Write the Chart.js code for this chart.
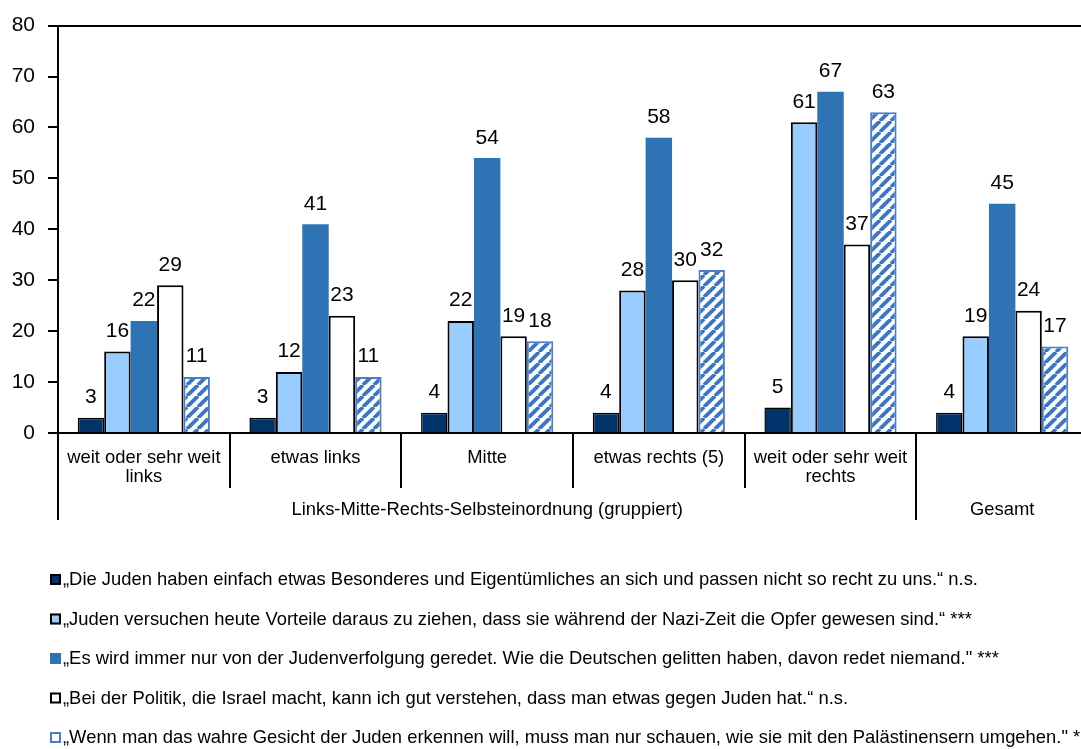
<!DOCTYPE html>
<html>
<head>
<meta charset="utf-8">
<script src="https://cdn.jsdelivr.net/npm/chart.js@4"></script>
<style>
  html, body { margin: 0; padding: 0; background: #fff; overflow: hidden; }
  #wrap { width: 1090px; height: 749px; }
</style>
</head>
<body>
<div id="wrap"><canvas id="chart"></canvas></div>
<script>
// Kategorien (erste Zeile der Achse) und Gruppen (zweite Zeile)
const categories = [
  ['weit oder sehr weit', 'links'],
  ['etwas links'],
  ['Mitte'],
  ['etwas rechts (5)'],
  ['weit oder sehr weit', 'rechts'],
  []
];
const groups = ['Links-Mitte-Rechts-Selbsteinordnung (gruppiert)', 'Gesamt'];
const groupSpans = [5, 1];

const yTicks = [0, 10, 20, 30, 40, 50, 60, 70, 80];

// Zustimmung in %
const besonderes = [3, 3, 4, 4, 5, 4];
const vorteile = [16, 12, 22, 28, 61, 19];
const judenverfolgung = [22, 41, 54, 58, 67, 45];
const israel = [29, 23, 19, 30, 37, 24];
const palaestinenser = [11, 11, 18, 32, 63, 17];

const seriesNames = [
  '„Die Juden haben einfach etwas Besonderes und Eigentümliches an sich und passen nicht so recht zu uns.“ n.s.',
  '„Juden versuchen heute Vorteile daraus zu ziehen, dass sie während der Nazi-Zeit die Opfer gewesen sind.“ ***',
  '„Es wird immer nur von der Judenverfolgung geredet. Wie die Deutschen gelitten haben, davon redet niemand." ***',
  '„Bei der Politik, die Israel macht, kann ich gut verstehen, dass man etwas gegen Juden hat.“ n.s.',
  '„Wenn man das wahre Gesicht der Juden erkennen will, muss man nur schauen, wie sie mit den Palästinensern umgehen." *'
];

const FONT = '"Liberation Sans", Arial, sans-serif';

// schraffierte Füllung
function makeHatch() {
  const n = 11;
  const c = document.createElement('canvas');
  c.width = n; c.height = n;
  const g = c.getContext('2d');
  g.fillStyle = '#fff';
  g.fillRect(0, 0, n, n);
  g.strokeStyle = '#3b76c2';
  g.lineWidth = 3.8;
  for (const o of [-n, 0, n]) {
    g.beginPath();
    g.moveTo(o, n);
    g.lineTo(o + n, 0);
    g.stroke();
  }
  return g.createPattern(c, 'repeat');
}
const hatch = makeHatch();

const extras = {
  id: 'extras',
  afterDraw(chart) {
    const { ctx, chartArea } = chart;
    const x = chart.scales.x;
    const w = (chartArea.right - chartArea.left) / categories.length;
    const bottom = chartArea.bottom;

    ctx.save();

    // Werte über den Balken
    ctx.font = '21px ' + FONT;
    ctx.fillStyle = '#000';
    ctx.textAlign = 'center';
    ctx.textBaseline = 'alphabetic';
    chart.data.datasets.forEach((ds, i) => {
      chart.getDatasetMeta(i).data.forEach((bar, j) => {
        ctx.fillText(String(ds.data[j]), bar.x, bar.y - 14.5);
      });
    });

    // x-Achse
    ctx.strokeStyle = '#000';
    ctx.lineWidth = 2;
    ctx.beginPath();
    ctx.moveTo(chartArea.left, bottom);
    ctx.lineTo(chartArea.right, bottom);
    ctx.stroke();

    // Trennlinien der Achsenbeschriftung
    const groupStarts = [0];
    groupSpans.forEach(s => groupStarts.push(groupStarts[groupStarts.length - 1] + s));
    for (let i = 0; i <= categories.length; i++) {
      const px = Math.round(x.getPixelForValue(0) - w / 2 + i * w);
      const deep = groupStarts.includes(i);
      ctx.beginPath();
      ctx.moveTo(px, bottom);
      ctx.lineTo(px, bottom + (deep ? 87 : 55));
      ctx.stroke();
    }

    // erste Zeile
    ctx.font = '18.4px ' + FONT;
    ctx.textBaseline = 'middle';
    categories.forEach((lines, i) => {
      const cx = x.getPixelForValue(i);
      lines.forEach((t, k) => ctx.fillText(t, cx, bottom + 25 + k * 18.5));
    });

    // zweite Zeile
    groups.forEach((g, i) => {
      const a = x.getPixelForValue(groupStarts[i]) - w / 2;
      const b = a + groupSpans[i] * w;
      ctx.fillText(g, (a + b) / 2, bottom + 77);
    });

    // Legende
    ctx.font = '18.4px ' + FONT;
    ctx.textAlign = 'left';
    chart.data.datasets.forEach((ds, i) => {
      const cy = 580 + i * 39.5;
      ctx.fillStyle = typeof ds.backgroundColor === 'string' ? ds.backgroundColor : '#fff';
      ctx.fillRect(50, cy - 6, 11, 11);
      if (ds.borderWidth) {
        ctx.strokeStyle = ds.borderColor;
        ctx.lineWidth = 2;
        ctx.strokeRect(51, cy - 5, 9, 9);
      }
      ctx.fillStyle = '#000';
      ctx.fillText(ds.label, 63, cy);
    });

    ctx.restore();
  }
};

const datasets = [
  { label: seriesNames[0], data: besonderes, backgroundColor: '#00336a', borderColor: '#000', borderWidth: 1.5 },
  { label: seriesNames[1], data: vorteile, backgroundColor: '#99ccff', borderColor: '#000', borderWidth: 2 },
  { label: seriesNames[2], data: judenverfolgung, backgroundColor: '#2e74b5', borderColor: '#2e74b5', borderWidth: 0 },
  { label: seriesNames[3], data: israel, backgroundColor: '#ffffff', borderColor: '#000', borderWidth: 2 },
  { label: seriesNames[4], data: palaestinenser, backgroundColor: hatch, borderColor: '#4a7cc9', borderWidth: 2 }
];

new Chart(document.getElementById('chart'), {
  type: 'bar',
  data: {
    labels: categories.map(c => c.join(' ')),
    datasets: datasets.map(d => Object.assign({ barPercentage: 1, categoryPercentage: 0.77 }, d))
  },
  options: {
    responsive: true,
    maintainAspectRatio: false,
    animation: false,
    layout: { padding: { top: 19, bottom: 316, left: 0, right: 2 } },
    plugins: {
      legend: { display: false },
      tooltip: { enabled: false }
    },
    scales: {
      x: {
        ticks: { display: false },
        grid: { display: false },
        border: { display: false },
        afterFit: s => { s.height = 0; }
      },
      y: {
        min: 0,
        max: 80,
        afterBuildTicks: s => { s.ticks = yTicks.map(v => ({ value: v })); },
        afterFit: s => { s.width = 58; },
        ticks: { font: { family: FONT, size: 21 }, color: '#000', padding: 13 },
        grid: {
          drawOnChartArea: true,
          color: c => (c.tick && c.tick.value === 80 ? '#000' : 'rgba(0,0,0,0)'),
          tickColor: '#000',
          tickLength: 10,
          lineWidth: 2
        },
        border: { display: true, color: '#000', width: 2 }
      }
    }
  },
  plugins: [extras]
});
</script>
</body>
</html>
